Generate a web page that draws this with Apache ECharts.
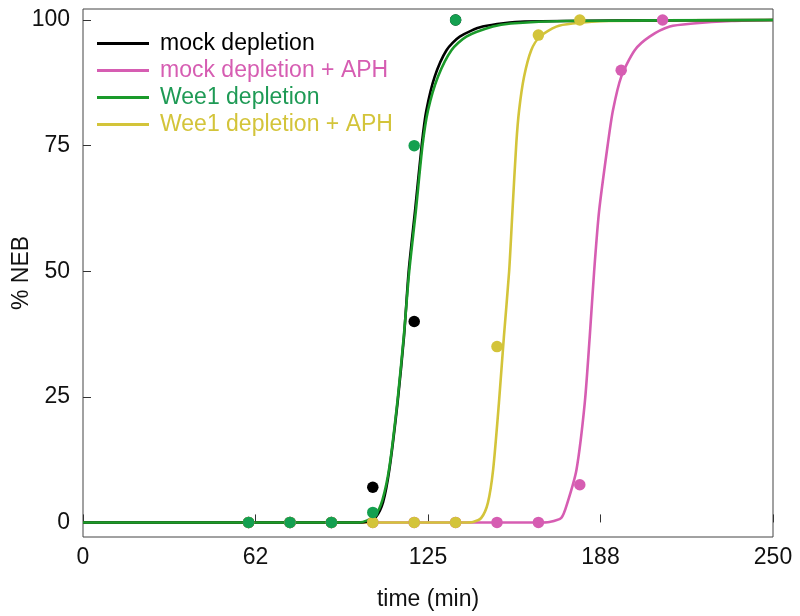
<!DOCTYPE html>
<html>
<head>
<meta charset="utf-8">
<script src="https://cdn.jsdelivr.net/npm/echarts@6/dist/echarts.min.js"></script>
<style>html,body{margin:0;padding:0;background:#fff}#c{width:800px;height:616px}</style>
</head>
<body>
<div id="c"></div>
<script>
// Categories / names
var seriesNames = ['mock depletion', 'mock depletion + APH', 'Wee1 depletion', 'Wee1 depletion + APH'];
var xTickValues = [0, 62.5, 125, 187.5, 250];
var xTickLabels = ['0', '62', '125', '188', '250'];
var yTickValues = [0, 25, 50, 75, 100];

// Measured points [time, %NEB]
var mockPts = [[60,0],[75,0],[90,0],[105,7],[120,40],[135,100]];
var mockAphPts = [[60,0],[75,0],[90,0],[105,0],[120,0],[135,0],[150,0],[165,0],[180,7.5],[195,90],[210,100]];
var weePts = [[60,0],[75,0],[90,0],[105,2],[120,75],[135,100]];
var weeAphPts = [[60,0],[75,0],[90,0],[105,0],[120,0],[135,0],[150,35],[165,97],[180,100]];

// Fitted curves
var mockCurve = [[0,0],[100,0],[103,0.2],[106,1],[108.7,4],[111,10.5],[114,24],[116.3,37],[118,50],[120.3,62],[122.8,75.5],[124.4,82],[127.4,88.7],[131.7,94],[136.5,96.7],[144.8,98.7],[160,99.7],[250,100]];
var mockAphCurve = [[0,0],[165,0],[169,0.1],[173.3,0.9],[175.5,3.9],[178.8,10.5],[181.8,23.8],[183.6,37],[185.2,50],[187,62],[190.2,75.5],[192,82],[195,88.7],[199.9,94],[205.3,96.7],[212.6,98.7],[221,99.3],[235,99.8],[250,100]];
var weeCurve = [[0,0],[100,0],[103,0.4],[106,1.5],[108.5,4.5],[111,11],[114,24.5],[116.3,37.5],[118.2,50],[120.6,62],[123,75],[125,82],[128.6,88.7],[133.5,94],[138.9,96.7],[148.5,98.7],[155,99.3],[175,99.8],[250,100]];
var weeAphCurve = [[0,0],[138,0],[141.3,0.1],[144.3,0.9],[146.7,3.9],[148.6,10.5],[150.7,23.8],[152.5,37],[154.4,50],[155.6,62],[157,75.5],[158,82],[159.8,88.7],[162.4,94],[165.5,96.7],[171.5,98.7],[177.4,99.3],[190,99.8],[250,100]];

var colors = {
  mock: '#000000',
  mockAph: '#d65db2',
  wee: '#1a9a2a',
  weeDot: '#14a050',
  weeText: '#1e9a55',
  weeAph: '#d3c43a'
};

var font = '"Liberation Sans", Arial, Helvetica, sans-serif';

function curve(name, data, color, z) {
  return {
    name: name, type: 'line', data: data, showSymbol: false, symbol: 'none',
    smooth: 0.25,
    lineStyle: { color: color, width: 2.6 }, itemStyle: { color: color },
    z: z, silent: true, animation: false
  };
}
function dots(name, data, color, z) {
  return {
    name: name, type: 'scatter', data: data, symbol: 'circle', symbolSize: 11.5,
    itemStyle: { color: color, opacity: 1 }, z: z, silent: true, animation: false
  };
}

var chart = echarts.init(document.getElementById('c'), null, { renderer: 'canvas' });
chart.setOption({
  backgroundColor: '#ffffff',
  animation: false,
  grid: { left: 83, right: 27, top: 9, bottom: 79, outerBoundsMode: 'none', containLabel: false, show: true, borderColor: '#444', borderWidth: 1, backgroundColor: 'transparent' },
  legend: {
    orient: 'vertical', left: 97, top: 32, padding: 0, itemGap: 4,
    itemWidth: 52, itemHeight: 3, icon: 'rect',
    selectedMode: false,
    textStyle: { fontFamily: font, fontSize: 23, padding: [0, 0, 0, 6] },
    data: [
      { name: seriesNames[0], itemStyle: { color: colors.mock }, textStyle: { color: colors.mock } },
      { name: seriesNames[1], itemStyle: { color: colors.mockAph }, textStyle: { color: colors.mockAph } },
      { name: seriesNames[2], itemStyle: { color: colors.wee }, textStyle: { color: colors.weeText } },
      { name: seriesNames[3], itemStyle: { color: colors.weeAph }, textStyle: { color: colors.weeAph } }
    ]
  },
  xAxis: {
    type: 'value', min: 0, max: 250, interval: 62.5,
    name: 'time (min)', nameLocation: 'middle', nameGap: 51, nameMoveOverlap: false,
    nameTextStyle: { fontFamily: font, fontSize: 23, color: '#111' },
    axisLine: { show: false },
    axisTick: { show: true, inside: true, length: 8, lineStyle: { color: '#333', width: 1 } },
    axisLabel: {
      fontFamily: font, fontSize: 23, color: '#111', margin: 9,
      formatter: function (v) {
        for (var i = 0; i < xTickValues.length; i++) if (Math.abs(v - xTickValues[i]) < 1e-6) return xTickLabels[i];
        return '';
      }
    },
    splitLine: { show: false }
  },
  yAxis: {
    type: 'value', min: -2.9, max: 102.2,
    name: '% NEB', nameLocation: 'middle', nameGap: 50, nameMoveOverlap: false,
    nameTextStyle: { fontFamily: font, fontSize: 23, color: '#111' },
    axisLine: { show: false },
    axisTick: { show: true, inside: true, length: 8, lineStyle: { color: '#333', width: 1 }, customValues: yTickValues },
    axisLabel: { fontFamily: font, fontSize: 23, color: '#111', margin: 13, customValues: yTickValues },
    splitLine: { show: false }
  },
  series: [
    curve(seriesNames[1], mockAphCurve, colors.mockAph, 2),
    curve(seriesNames[3], weeAphCurve, colors.weeAph, 3),
    curve(seriesNames[0], mockCurve, colors.mock, 4),
    curve(seriesNames[2], weeCurve, colors.wee, 5),
    dots(seriesNames[0], mockPts, colors.mock, 10),
    dots(seriesNames[1], mockAphPts, colors.mockAph, 11),
    dots(seriesNames[3], weeAphPts, colors.weeAph, 12),
    dots(seriesNames[2], weePts, colors.weeDot, 13)
  ]
});
</script>
</body>
</html>
